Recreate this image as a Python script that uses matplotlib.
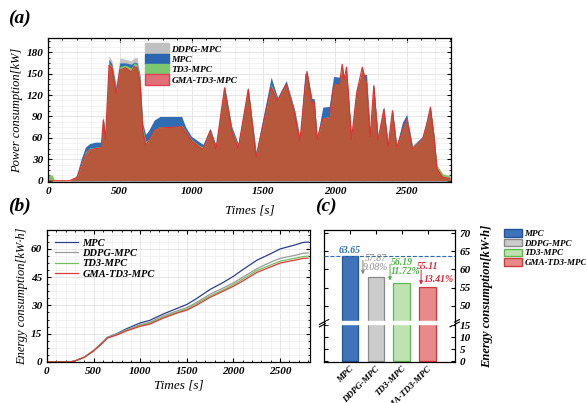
import numpy as np
import matplotlib
matplotlib.use("Agg")
import matplotlib.pyplot as plt
from matplotlib.patches import Patch
from matplotlib.lines import Line2D

plt.rcParams['font.family'] = ['Liberation Serif', 'DejaVu Serif']
plt.rcParams['font.weight'] = 'bold'
plt.rcParams['font.style'] = 'italic'
plt.rcParams['mathtext.default'] = 'regular'

# ---------------- data: panel (a) power ----------------
t_pow = [0, 30, 45, 150, 180, 200, 230, 260, 290, 330, 370, 385, 400, 425, 445, 475, 500, 540, 580, 600,
         620, 640, 660, 680, 700, 740, 780, 900, 930, 960, 1000, 1050, 1080, 1130, 1170, 1230, 1280, 1325,
         1395, 1450, 1500, 1555, 1600, 1660, 1720, 1755, 1790, 1805, 1840, 1855, 1875, 1915, 1960, 1990,
         2030, 2050, 2065, 2080, 2115, 2150, 2190, 2220, 2245, 2270, 2300, 2340, 2370, 2400, 2430, 2470,
         2500, 2540, 2610, 2640, 2665, 2690, 2710, 2750, 2800]
p_gma = [0, 0, 0, 0, 3, 4, 20, 35, 43, 45, 46, 85, 58, 162, 158, 122, 155, 158, 152, 160,
         158, 140, 70, 50, 55, 70, 74, 75, 76, 68, 56, 48, 44, 70, 44, 130, 70, 45,
         128, 33, 80, 131, 112, 135, 93, 55, 130, 153, 107, 111, 58, 86, 88, 133,
         135, 163, 142, 159, 58, 122, 159, 135, 62, 133, 57, 100, 48, 98, 46, 70,
         86, 44, 58, 80, 103, 60, 17, 5, 3]
p_td3 = [8, 8, 1, 0, 3, 6, 25, 40, 46, 47, 48, 87, 60, 165, 160, 126, 160, 162, 158, 165,
         163, 145, 75, 55, 58, 72, 76, 76, 78, 70, 58, 50, 47, 71, 46, 130, 72, 48,
         129, 37, 82, 135, 113, 136, 95, 57, 135, 150, 108, 110, 62, 88, 90, 135,
         136, 150, 142, 150, 60, 124, 150, 138, 64, 133, 60, 102, 50, 98, 48, 72,
         88, 47, 60, 82, 100, 63, 22, 10, 7]
p_ddpg = [0, 0, 0, 0, 3, 6, 27, 42, 48, 49, 50, 92, 62, 175, 168, 135, 172, 170, 168, 172,
          173, 150, 80, 60, 60, 75, 78, 78, 92, 70, 60, 53, 50, 74, 50, 132, 75, 50,
          130, 40, 85, 140, 118, 140, 98, 60, 140, 150, 110, 112, 65, 90, 92, 138,
          140, 150, 145, 150, 62, 130, 150, 140, 66, 135, 62, 105, 52, 100, 52, 75,
          90, 50, 62, 85, 100, 65, 20, 8, 5]
p_mpc = [0, 0, 0, 0, 3, 8, 30, 47, 52, 54, 54, 88, 62, 170, 163, 130, 165, 165, 163, 166,
         165, 148, 80, 65, 70, 85, 90, 90, 90, 75, 62, 55, 51, 73, 50, 133, 76, 52,
         131, 40, 90, 145, 116, 140, 98, 60, 150, 152, 115, 115, 60, 103, 104, 146,
         145, 150, 145, 150, 62, 128, 148, 149, 66, 135, 62, 103, 52, 100, 50, 82,
         93, 48, 62, 85, 102, 65, 20, 8, 5]

# ---------------- data: panel (b) energy ----------------
t_en = [0, 250, 300, 400, 500, 600, 650, 750, 850, 1000, 1100, 1250, 1400, 1500, 1600, 1750, 1900,
        2000, 2100, 2250, 2400, 2500, 2650, 2750, 2800]
e_mpc = [0, 0, 0.5, 2.5, 6, 10.5, 13, 15, 17.5, 20.7, 22, 25.5, 28.5, 30.5, 33.5, 38.5, 42.5,
         45.5, 49, 54, 57.5, 60, 62, 63.5, 63.65]
e_ddpg = [0, 0, 0.5, 2.5, 6, 10.5, 13, 14.8, 17, 19.8, 21, 24.5, 27.2, 28.8, 31.5, 36, 39.5,
          42, 45, 49.5, 53, 55, 56.5, 57.7, 57.87]
e_td3 = [0, 0, 0.5, 2.4, 5.8, 10.2, 12.7, 14.5, 16.7, 19.3, 20.5, 23.8, 26.5, 28, 30.8, 35, 38.5,
         41, 44, 48.5, 51.5, 53.5, 55, 56, 56.19]
e_gma = [0, 0, 0.5, 2.4, 5.8, 10.2, 12.7, 14.3, 16.4, 18.9, 20, 23.3, 26, 27.5, 30, 34.3, 37.8,
         40.2, 43, 47.5, 50.5, 52.5, 54, 55, 55.11]

# ---------------- data: panel (c) totals ----------------
methods = ["MPC", "DDPG-MPC", "TD3-MPC", "GMA-TD3-MPC"]
totals = [63.65, 57.87, 56.19, 55.11]
reductions = [None, "9.08%", "11.72%", "13.41%"]

# styles
fill_cols = {"DDPG-MPC": "#c4c4c4", "MPC": "#2e6db5", "TD3-MPC": "#7cc46a", "GMA-TD3-MPC": "#b5583b"}
line_cols = {"MPC": "#2b3f8c", "DDPG-MPC": "#9a9a9a", "TD3-MPC": "#72c060", "GMA-TD3-MPC": "#e03a3a"}
bar_face = ["#3f74bd", "#cccccc", "#bfe3b0", "#e88a8a"]
bar_edge = ["#24539a", "#8a8a8a", "#5fb84f", "#d23a3a"]
lab_cols = ["#2e6db5", "#8a8a8a", "#4fb24a", "#d8283a"]

TF = 8
fig = plt.figure(figsize=(5.86, 4.03), dpi=100)

def style_axes(ax):
    ax.tick_params(which='both', direction='in', top=True, right=True, labelsize=TF)
    ax.minorticks_on()
    ax.tick_params(which='major', length=3, width=0.8)
    ax.tick_params(which='minor', length=1.5, width=0.6)
    for s in ax.spines.values():
        s.set_linewidth(0.9)
    ax.grid(True, which='major', color='#e2e2e2', lw=0.6)
    ax.grid(True, which='minor', color='#efefef', lw=0.5)
    ax.set_axisbelow(True)

# ---------------- (a) ----------------
axa = fig.add_axes([0.082, 0.548, 0.688, 0.358])
style_axes(axa)
series_a = [("DDPG-MPC", p_ddpg), ("MPC", p_mpc), ("TD3-MPC", p_td3), ("GMA-TD3-MPC", p_gma)]
for name, vals in series_a:
    axa.fill_between(t_pow, 0, vals, color=fill_cols[name], lw=0)
axa.plot(t_pow, p_gma, color="#e03030", lw=0.8)
axa.set_xlim(0, 2810)
axa.set_ylim(-2, 200)
axa.set_xticks([0, 500, 1000, 1500, 2000, 2500])
axa.set_yticks([0, 30, 60, 90, 120, 150, 180])
axa.set_ylabel("Power consumption[kW]", fontsize=9, labelpad=2)
axa.set_xlabel("Times [s]", fontsize=9.5, labelpad=6)
leg_a = [Patch(facecolor="#c0c0c0", edgecolor="#c0c0c0", label="DDPG-MPC"),
         Patch(facecolor="#2a66b0", edgecolor="#2a66b0", label="MPC"),
         Patch(facecolor="#7cc86e", edgecolor="#7cc86e", label="TD3-MPC"),
         Patch(facecolor="#e07078", edgecolor="#e04050", label="GMA-TD3-MPC")]
axa.legend(handles=leg_a, loc='upper left', bbox_to_anchor=(0.225, 1.005), frameon=False,
           fontsize=6.8, handlelength=2.5, handleheight=1.3, labelspacing=0.0, borderpad=0.15,
           handletextpad=0.3)
fig.text(0.013, 0.955, "(a)", fontsize=14, va='center')

# ---------------- (b) ----------------
axb = fig.add_axes([0.080, 0.102, 0.449, 0.327])
style_axes(axb)
for name, vals in [("MPC", e_mpc), ("DDPG-MPC", e_ddpg), ("TD3-MPC", e_td3), ("GMA-TD3-MPC", e_gma)]:
    axb.plot(t_en, vals, color=line_cols[name], lw=0.9, label=name)
axb.set_xlim(0, 2820)
axb.set_ylim(0, 70)
axb.set_xticks([0, 500, 1000, 1500, 2000, 2500])
axb.set_yticks([0, 15, 30, 45, 60])
axb.set_ylabel("Energy consumption[kW·h]", fontsize=9, labelpad=2)
axb.set_xlabel("Times [s]", fontsize=9.5, labelpad=3)
axb.legend(loc='upper left', frameon=False, fontsize=7.5, handlelength=2.2, labelspacing=0.1,
           borderpad=0.3, handletextpad=0.4)
fig.text(0.013, 0.488, "(b)", fontsize=14, va='center')

# ---------------- (c) broken axis ----------------
L, W = 0.553, 0.223
axt = fig.add_axes([L, 0.201, W, 0.228])
axc = fig.add_axes([L, 0.102, W, 0.099])
xpos = np.arange(len(methods))
for ax in (axt, axc):
    ax.bar(xpos, totals, width=0.64, color=bar_face, edgecolor=bar_edge, linewidth=0.9, zorder=2)
    ax.set_xlim(-1, 4.05)
    ax.tick_params(which='both', direction='in', left=True, right=True, top=True,
                   labelleft=False, labelright=True, labelsize=TF)
    ax.tick_params(which='major', length=3, width=0.8)
    ax.tick_params(which='minor', length=1.5, width=0.6)
    for s in ax.spines.values():
        s.set_linewidth(0.9)
axt.set_ylim(45.6, 70.8)
axc.set_ylim(-0.3, 16.25)
axt.set_yticks([50, 55, 60, 65, 70])
axc.set_yticks([0, 5, 10, 15])
axt.spines['bottom'].set_visible(False)
axc.spines['top'].set_visible(False)
axt.tick_params(axis='x', which='both', bottom=False, labelbottom=False)
axc.tick_params(axis='x', which='both', top=False, pad=2)
axt.set_xticks(xpos)
axc.set_xticks(xpos)
axc.set_xticklabels(methods, rotation=45, ha='right', rotation_mode='anchor', fontsize=6.5)
axt.axhline(totals[0], color=lab_cols[0], ls='--', lw=0.8, zorder=3)
# values & reductions
val_y = [totals[0] + 0.4, 63.0, 62.0, 60.7]
pct_y = [None, 60.6, 59.5, 57.2]
pct_dx = [0, 0.0, 0.15, 0.45]
arr_x = [0, 0.5, 1.55, 2.75]
arr_top = [0, 63.3, 62.2, 60.6]
axt.text(0, val_y[0], f"{totals[0]:.2f}", color=lab_cols[0], ha='center', va='bottom', fontsize=7)
for i in range(1, 4):
    w = 'normal' if i == 1 else 'bold'
    axt.text(i, val_y[i], f"{totals[i]:.2f}", color=lab_cols[i], ha='center', va='center',
             fontsize=7, fontweight=w, zorder=5)
    axt.text(i + pct_dx[i], pct_y[i], reductions[i], color=lab_cols[i], ha='center', va='center',
             fontsize=7, fontweight=w, zorder=5)
    axt.annotate("", xy=(arr_x[i], totals[i]), xytext=(arr_x[i], arr_top[i]),
                 arrowprops=dict(arrowstyle='-|>', color=lab_cols[i], lw=0.7, mutation_scale=5))
# break marks
bk = dict(color='k', lw=0.8, clip_on=False, transform=fig.transFigure)
yb = 0.201
fig.add_artist(plt.Rectangle((L + 0.003, yb - 0.004), W - 0.006, 0.007, transform=fig.transFigure,
                             color='white', zorder=10))
for xb in (L, L + W):
    for dy in (-0.006, 0.0):
        fig.add_artist(Line2D([xb - 0.008, xb + 0.008], [yb + dy - 0.006, yb + dy + 0.006], **bk))
fig.text(0.832, 0.265, "Energy consumption[kW·h]", rotation=90, fontsize=9, ha='center', va='center')
fig.text(0.538, 0.488, "(c)", fontsize=14, va='center')

leg_c = [Patch(facecolor=bar_face[i], edgecolor=bar_edge[i], label=methods[i]) for i in range(4)]
fig.legend(handles=leg_c, loc='upper left', bbox_to_anchor=(0.85, 0.445), frameon=False,
           fontsize=6.5, handlelength=2.0, handleheight=0.9, labelspacing=0.1, borderpad=0.1,
           handletextpad=0.3)

fig.savefig("out.png", dpi=100)
